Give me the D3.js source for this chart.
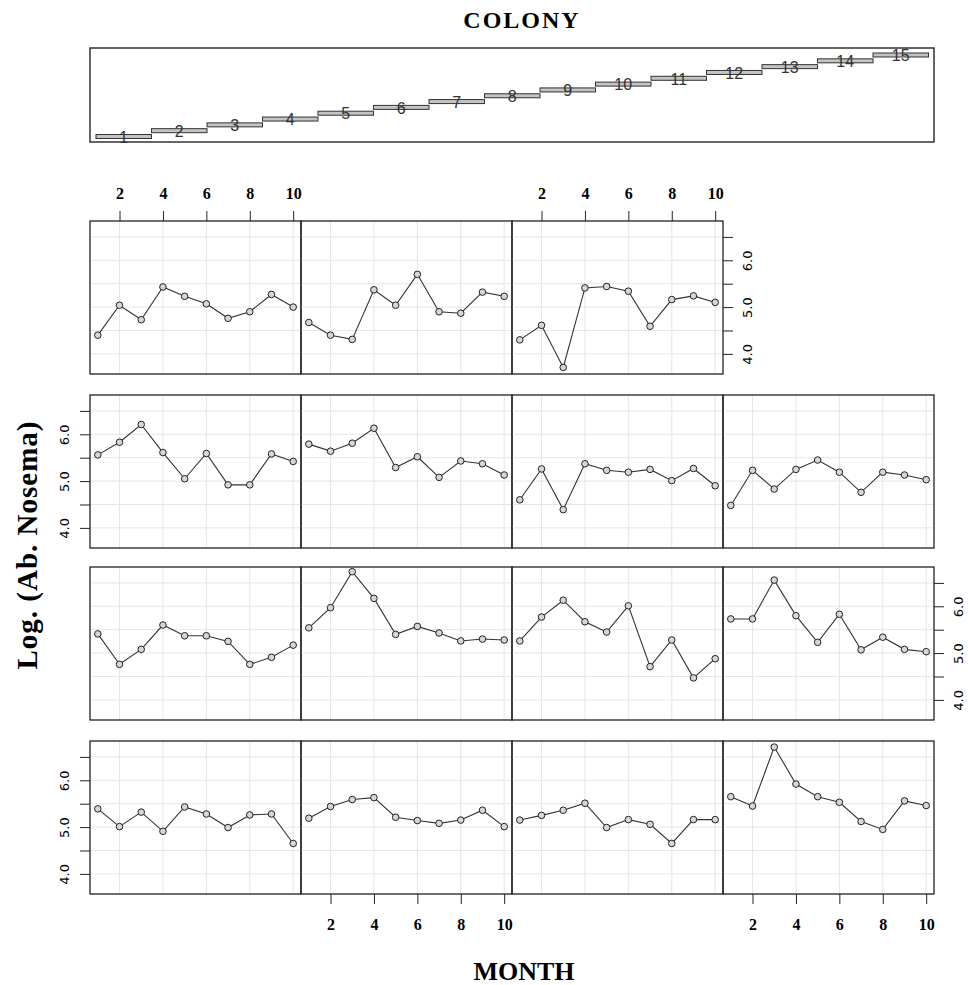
<!DOCTYPE html>
<html>
<head>
<meta charset="utf-8">
<script src="https://cdn.jsdelivr.net/npm/d3@7"></script>
<style>
  body { margin: 0; background: #fff; }
</style>
</head>
<body>
<svg id="chart" width="968" height="985"></svg>
<script>
// months on the x axis, colonies 1..15 as conditioning levels
const months = [1, 2, 3, 4, 5, 6, 7, 8, 9, 10];
const colonies = d3.range(1, 16);

// log(abundance of Nosema) per colony
const colony1  = [5.39, 5.01, 5.32, 4.91, 5.43, 5.28, 4.99, 5.26, 5.28, 4.65];
const colony2  = [5.19, 5.44, 5.59, 5.63, 5.21, 5.14, 5.08, 5.15, 5.36, 5.01];
const colony3  = [5.15, 5.25, 5.36, 5.51, 4.99, 5.16, 5.06, 4.65, 5.16, 5.16];
const colony4  = [5.65, 5.45, 6.71, 5.92, 5.65, 5.53, 5.12, 4.95, 5.56, 5.46];
const colony5  = [5.41, 4.76, 5.08, 5.60, 5.37, 5.37, 5.25, 4.76, 4.91, 5.17];
const colony6  = [5.54, 5.97, 6.74, 6.17, 5.40, 5.57, 5.43, 5.26, 5.30, 5.28];
const colony7  = [5.26, 5.77, 6.13, 5.67, 5.45, 6.01, 4.71, 5.28, 4.47, 4.88];
const colony8  = [5.73, 5.73, 6.56, 5.80, 5.23, 5.83, 5.07, 5.34, 5.08, 5.03];
const colony9  = [5.56, 5.83, 6.21, 5.61, 5.05, 5.59, 4.92, 4.92, 5.58, 5.42];
const colony10 = [5.79, 5.64, 5.81, 6.13, 5.29, 5.52, 5.08, 5.43, 5.37, 5.13];
const colony11 = [4.60, 5.26, 4.39, 5.37, 5.23, 5.19, 5.25, 5.01, 5.27, 4.90];
const colony12 = [4.48, 5.23, 4.83, 5.25, 5.45, 5.19, 4.76, 5.19, 5.13, 5.03];
const colony13 = [4.40, 5.04, 4.73, 5.43, 5.23, 5.07, 4.76, 4.90, 5.27, 5.00];
const colony14 = [4.67, 4.40, 4.31, 5.37, 5.04, 5.70, 4.90, 4.87, 5.32, 5.23];
const colony15 = [4.30, 4.61, 3.71, 5.41, 5.44, 5.34, 4.59, 5.16, 5.24, 5.10];

const series = [colony1, colony2, colony3, colony4, colony5, colony6, colony7, colony8,
  colony9, colony10, colony11, colony12, colony13, colony14, colony15];

const xTicks = [2, 4, 6, 8, 10];
const yTicks = [4.0, 4.5, 5.0, 5.5, 6.0, 6.5];
const yLabelled = [4.0, 5.0, 6.0];

// layout
const panelW = 211, panelH = 153;
const left = 90;
const rowTops = [221, 395, 567, 741];
const serif = "'Liberation Serif', 'DejaVu Serif', serif";
const sans = "'DejaVu Sans', 'Liberation Sans', sans-serif";

const svg = d3.select("#chart");

const x = d3.scaleLinear().domain([0.64, 10.36]).range([0, panelW]);
const y = d3.scaleLinear().domain([3.57, 6.84]).range([panelH, 0]);

// ---- COLONY strip at the top ----
svg.append("text")
  .attr("x", 522).attr("y", 28)
  .attr("text-anchor", "middle")
  .style("font-family", serif).style("font-weight", "bold")
  .style("font-size", "24px").style("letter-spacing", "2px")
  .text("COLONY");

svg.append("rect")
  .attr("x", 90).attr("y", 48).attr("width", 844).attr("height", 94)
  .attr("fill", "none").attr("stroke", "#333").attr("stroke-width", 1.5);

const sx = d3.scaleLinear().domain([0.5, 15.5]).range([96, 928.5]);
const sy = d3.scaleLinear().domain([1, 15]).range([136.5, 55]);

const strip = svg.append("g");
strip.selectAll("rect")
  .data(colonies)
  .join("rect")
  .attr("x", d => sx(d - 0.5))
  .attr("y", d => sy(d) - 2)
  .attr("width", d => sx(d + 0.5) - sx(d - 0.5))
  .attr("height", 4)
  .attr("fill", "#c4c4c4")
  .attr("stroke", "#333")
  .attr("stroke-width", 1);

strip.selectAll("text")
  .data(colonies)
  .join("text")
  .attr("x", d => sx(d))
  .attr("y", d => sy(d) + 2)
  .attr("text-anchor", "middle")
  .attr("dominant-baseline", "middle")
  .style("font-family", "'Liberation Sans', sans-serif")
  .style("font-size", "16px")
  .attr("fill", "#333")
  .text(d => d);

// ---- panels ----
const line = d3.line()
  .x((d, i) => x(months[i]))
  .y(d => y(d));

series.forEach((vals, i) => {
  const rowFromBottom = Math.floor(i / 4);
  const col = i % 4;
  const row = 3 - rowFromBottom;
  const g = svg.append("g")
    .attr("transform", `translate(${left + col * panelW}, ${rowTops[row]})`);

  // grid
  g.append("g").selectAll("line")
    .data(xTicks)
    .join("line")
    .attr("x1", d => x(d)).attr("x2", d => x(d))
    .attr("y1", 0).attr("y2", panelH)
    .attr("stroke", "#e6e6e6");
  g.append("g").selectAll("line")
    .data(yTicks)
    .join("line")
    .attr("x1", 0).attr("x2", panelW)
    .attr("y1", d => y(d)).attr("y2", d => y(d))
    .attr("stroke", "#e6e6e6");

  g.append("path")
    .datum(vals)
    .attr("d", line)
    .attr("fill", "none")
    .attr("stroke", "#333")
    .attr("stroke-width", 1.1);

  g.selectAll("circle")
    .data(vals)
    .join("circle")
    .attr("cx", (d, j) => x(months[j]))
    .attr("cy", d => y(d))
    .attr("r", 3.3)
    .attr("fill", "#d6d6d6")
    .attr("stroke", "#222")
    .attr("stroke-width", 1);

  g.append("rect")
    .attr("width", panelW).attr("height", panelH)
    .attr("fill", "none")
    .attr("stroke", "#222")
    .attr("stroke-width", 1.3);
});

// ---- axes ----
function styleX(sel) {
  sel.select(".domain").remove();
  sel.selectAll("line").attr("stroke", "#222");
  sel.selectAll("text")
    .style("font-family", serif).style("font-weight", "bold")
    .style("font-size", "16px").attr("fill", "#000");
}

[0, 2].forEach(col => {
  svg.append("g")
    .attr("transform", `translate(${left + col * panelW}, ${rowTops[0]})`)
    .call(d3.axisTop(x).tickValues(xTicks).tickSize(10).tickPadding(12))
    .call(styleX);
});
[1, 3].forEach(col => {
  svg.append("g")
    .attr("transform", `translate(${left + col * panelW}, ${rowTops[3] + panelH})`)
    .call(d3.axisBottom(x).tickValues(xTicks).tickSize(10).tickPadding(15))
    .call(styleX);
});

function styleY(sel, side) {
  sel.select(".domain").remove();
  sel.selectAll("line").attr("stroke", "#222");
  sel.selectAll("text")
    .attr("x", 0).attr("dy", null)
    .attr("y", side * 25)
    .attr("transform", "rotate(-90)")
    .attr("text-anchor", "middle")
    .attr("dominant-baseline", "middle")
    .style("font-family", sans)
    .style("font-size", "13px")
    .attr("fill", "#000");
}
const yFmt = d => yLabelled.includes(d) ? d3.format(".1f")(d) : "";

// left axes on rows 2 and 4, right axes on rows 1 and 3
[1, 3].forEach(row => {
  svg.append("g")
    .attr("transform", `translate(${left}, ${rowTops[row]})`)
    .call(d3.axisLeft(y).tickValues(yTicks).tickFormat(yFmt).tickSize(10))
    .call(styleY, -1);
});
[[0, 3], [2, 4]].forEach(([row, ncol]) => {
  svg.append("g")
    .attr("transform", `translate(${left + ncol * panelW}, ${rowTops[row]})`)
    .call(d3.axisRight(y).tickValues(yTicks).tickFormat(yFmt).tickSize(10))
    .call(styleY, 1);
});

// ---- axis titles ----
svg.append("text")
  .attr("x", 524).attr("y", 980)
  .attr("text-anchor", "middle")
  .style("font-family", serif).style("font-weight", "bold")
  .style("font-size", "26px")
  .text("MONTH");

svg.append("text")
  .attr("transform", "translate(37, 545) rotate(-90)")
  .attr("text-anchor", "middle")
  .style("font-family", serif).style("font-weight", "bold")
  .style("font-size", "29px").style("letter-spacing", "1px")
  .text("Log. (Ab. Nosema)");
</script>
</body>
</html>
